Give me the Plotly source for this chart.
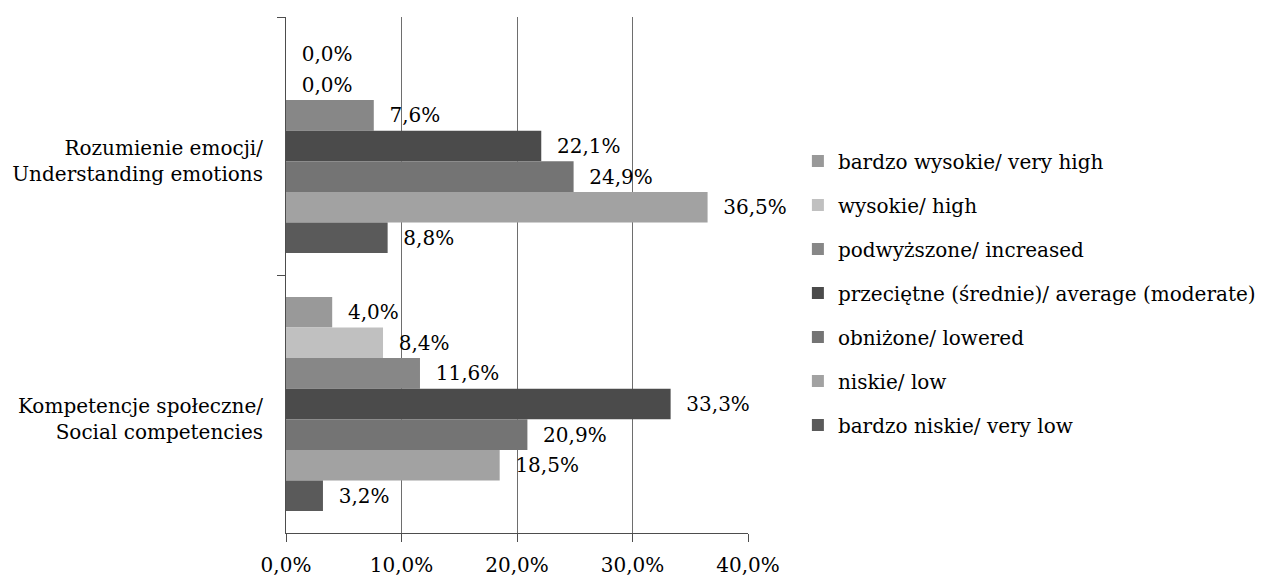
import plotly.graph_objects as go

categories = ["Rozumienie emocji/<br>Understanding emotions",
              "Kompetencje społeczne/<br>Social competencies"]

series_names = ["bardzo wysokie/ very high", "wysokie/ high", "podwyższone/ increased",
                "przeciętne (średnie)/ average (moderate)", "obniżone/ lowered",
                "niskie/ low", "bardzo niskie/ very low"]

very_high = [0.0, 4.0]
high = [0.0, 8.4]
increased = [7.6, 11.6]
average = [22.1, 33.3]
lowered = [24.9, 20.9]
low = [36.5, 18.5]
very_low = [8.8, 3.2]

series_values = [very_high, high, increased, average, lowered, low, very_low]
colors = ["#999999", "#c0c0c0", "#878787", "#4b4b4b", "#747474", "#a2a2a2", "#5a5a5a"]

x_ticks = [0, 10, 20, 30, 40]
x_tick_labels = ["0,0%", "10,0%", "20,0%", "30,0%", "40,0%"]

FONT = "DejaVu Serif"

fig = go.Figure()
for name, vals, col in zip(series_names, series_values, colors):
    fig.add_trace(go.Bar(
        y=categories, x=vals, name=name, orientation="h",
        marker=dict(color=col, line=dict(width=0)),
        texttemplate="\u00a0\u00a0%{x:.1f}%", textposition="outside",
        textfont=dict(family=FONT, size=20, color="black"),
        cliponaxis=False, constraintext="none",
        legendgroup=name,
    ))

fig.update_layout(
    width=1264, height=576,
    margin=dict(l=286, r=516, t=17, b=43, autoexpand=False),
    paper_bgcolor="white", plot_bgcolor="white",
    font=dict(family=FONT, size=20, color="black"),
    separators=", ",
    barmode="group", bargap=0.17, bargroupgap=0,
    legend=dict(x=1.108, xanchor="left", y=0.465, yanchor="middle",
                font=dict(family=FONT, size=20, color="black"),
                tracegroupgap=15, bgcolor="rgba(0,0,0,0)"),
    showlegend=True,
)

fig.update_xaxes(
    range=[0, 40], tickmode="array", tickvals=x_ticks, ticktext=x_tick_labels,
    showgrid=True, gridcolor="#6e6e6e", gridwidth=1,
    showline=True, linecolor="#4d4d4d", linewidth=1,
    ticks="outside", ticklen=8, tickcolor="#4d4d4d",
    zeroline=False, ticklabelstandoff=6,
)
fig.update_yaxes(
    type="category", autorange="reversed", tickson="boundaries",
    ticks="outside", ticklen=8, tickcolor="#4d4d4d",
    showline=True, linecolor="#4d4d4d", linewidth=1,
    showgrid=False, ticklabelstandoff=18, ticklabelshift=-15,
)

fig.write_html("out.html")
